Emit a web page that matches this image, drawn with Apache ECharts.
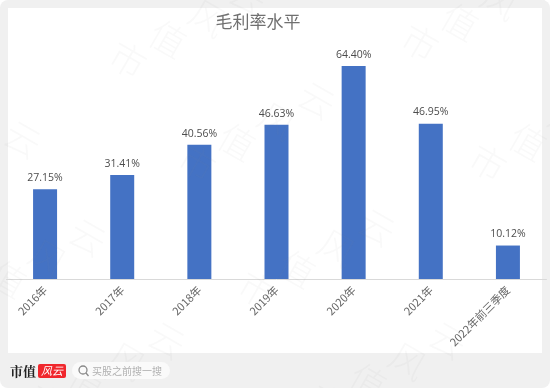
<!DOCTYPE html>
<html><head><meta charset="utf-8">
<style>html,body{margin:0;padding:0;background:#fff}#c{width:550px;height:388px}</style>
<script src="https://cdn.jsdelivr.net/npm/echarts@6/dist/echarts.min.js"></script>
</head><body><div id="c"></div>
<script>
const categories = ['2016年','2017年','2018年','2019年','2020年','2021年','2022年前三季度'];
const grossMargin = [27.15,31.41,40.56,46.63,64.40,46.95,10.12];
const chartTitle = '毛利率水平';
const brandName = '市值';
const brandTag = '风云';
const searchHint = '买股之前搜一搜';
const watermarkChars = '市值风云';
const watermarkStarts = [[128,60],[420,43],[-97,202],[197,163],[488,163],[-32,300],[257,290],[47,403],[328,403]];

const font = '"Noto Sans CJK SC","Noto Sans",sans-serif';
const wm = [];
watermarkStarts.forEach(([x,y])=>{
  [...watermarkChars].forEach((ch,i)=>{
    wm.push({type:'text',x:x+i*40,y:y-i*21,rotation:-Math.PI/180*30,z:50,silent:true,
      style:{text:ch,font:'300 36px '+font,fill:'rgba(140,140,140,0.05)',align:'center',verticalAlign:'middle'}});
  });
});
const chart = echarts.init(document.getElementById('c'),null,{renderer:'canvas'});
chart.setOption({
  animation:false,
  backgroundColor:'#ffffff',
  title:{text:chartTitle,left:253,top:8,textAlign:'center',
    textStyle:{fontFamily:font,fontSize:17,fontWeight:'normal',color:'#707070'}},
  grid:{left:6.5,right:3.5,top:47.5,bottom:109,containLabel:false,z:10},
  xAxis:{type:'category',data:categories,
    axisLine:{lineStyle:{color:'#d9d9d9',width:1}},axisTick:{show:false},
    axisLabel:{rotate:45,interval:0,margin:9,color:'#666666',fontFamily:font,fontSize:11}},
  yAxis:{type:'value',min:0,max:70,show:false,splitLine:{show:false}},
  series:[{type:'bar',data:grossMargin,barWidth:24,z:5,
    itemStyle:{color:'#4472c4'},
    label:{show:true,position:'top',distance:6,color:'#4d4d4d',fontFamily:'"Open Sans",'+font,fontSize:10.5,
      formatter:p=>p.value.toFixed(2)+'%'}}],
  graphic:[
    {type:'group',silent:true,z:-1,children:[
      {type:'rect',shape:{x:0,y:0,width:550,height:388,r:8},style:{fill:'#f0f0f0'},z:-10},
      {type:'rect',shape:{x:8,y:8,width:534,height:345},style:{fill:'#ffffff'},z:-9}
    ]},
    {type:'text',x:10,y:371,z:60,silent:true,style:{text:brandName,font:'bold 13px "Noto Serif CJK SC","Noto Sans CJK SC",serif',fill:'#222222',verticalAlign:'middle'}},
    {type:'rect',shape:{x:38,y:364,width:28,height:14,r:2},z:60,silent:true,style:{fill:'#f0272d'}},
    {type:'text',x:52,y:371,z:61,silent:true,style:{text:brandTag,font:'italic 11px '+font,fill:'#ffffff',align:'center',verticalAlign:'middle'}},
    {type:'rect',shape:{x:72,y:362,width:98,height:17,r:8.5},z:60,silent:true,style:{fill:'#fafafa'}},
    {type:'circle',shape:{cx:83,cy:370,r:4},z:61,silent:true,style:{fill:'none',stroke:'#8a8a8a',lineWidth:1.3}},
    {type:'line',shape:{x1:86,y1:373,x2:88.5,y2:376},z:61,silent:true,style:{stroke:'#8a8a8a',lineWidth:1.3}},
    {type:'text',x:92,y:371,z:61,silent:true,style:{text:searchHint,font:'10px '+font,fill:'#b0b0b0',verticalAlign:'middle'}},
    ...wm
  ]
});
</script></body></html>
